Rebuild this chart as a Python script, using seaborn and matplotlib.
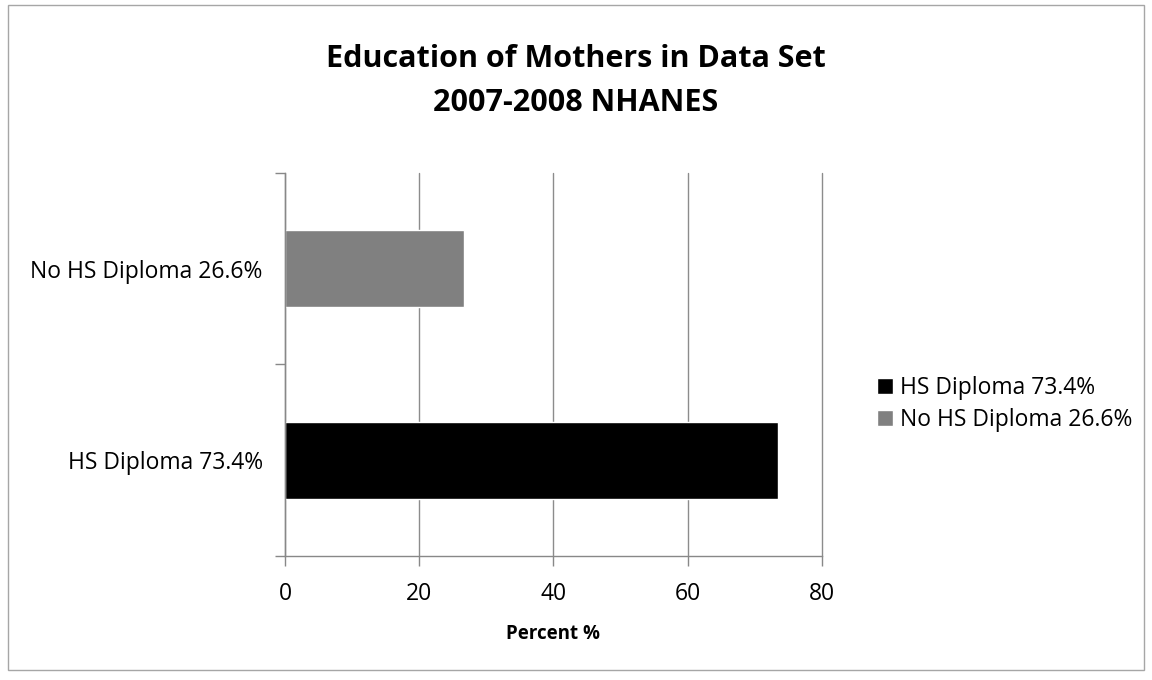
import pandas as pd
import matplotlib
matplotlib.use('Agg')
import matplotlib.pyplot as plt
import seaborn as sns
from matplotlib.patches import Rectangle

categories = ['HS Diploma 73.4%', 'No HS Diploma 26.6%']
percents = [73.4, 26.6]
bar_colors = ['#000000', '#808080']
x_ticks = [0, 20, 40, 60, 80]

sns.set_theme(style='white')
plt.rcParams['font.family'] = ['Open Sans', 'DejaVu Sans']
plt.rcParams['text.color'] = 'black'
plt.rcParams['axes.labelcolor'] = 'black'

df = pd.DataFrame({'group': categories, 'percent': percents})

fig = plt.figure(figsize=(11.52, 6.8), dpi=100)
ax = fig.add_axes([0.2474, 0.1824, 0.7135 - 0.2474, 0.7456 - 0.1824])

# Excel puts the first category at the bottom
sns.barplot(data=df, x='percent', y='group', hue='group',
            order=categories[::-1], hue_order=categories,
            palette=dict(zip(categories, bar_colors)),
            width=0.4, saturation=1, ax=ax, legend=True)

ax.set_xlim(0, 80)
ax.set_ylim(1.5, -0.5)
ax.set_xticks(x_ticks)
ax.set_yticks([-0.5, 0.5, 1.5], minor=True)
ax.tick_params(axis='y', which='major', length=0, labelsize=16.5, pad=16,
               labelcolor='black')
ax.tick_params(axis='y', which='minor', length=7, color='#888888', width=1, left=True)
ax.tick_params(axis='x', length=7, color='#888888', width=1, bottom=True,
               labelsize=16.5, pad=12, direction='out', labelcolor='black')
ax.grid(axis='x', color='#8c8c8c', linewidth=1)
for line in ax.get_xgridlines():
    line.set_clip_on(False)
ax.set_axisbelow(True)
for side in ['top', 'right']:
    ax.spines[side].set_visible(False)
for side in ['left', 'bottom']:
    ax.spines[side].set_color('#888888')
    ax.spines[side].set_linewidth(1)

ax.set_ylabel('')
ax.set_xlabel('Percent %', fontsize=13.5, fontweight='bold', labelpad=13)

ax.legend(loc='center left', bbox_to_anchor=(0.7535, 1 - 404 / 680),
          bbox_transform=fig.transFigure, frameon=False,
          fontsize=16.5, handlelength=0.7, handleheight=0.7, handletextpad=0.3,
          labelspacing=0.35, borderaxespad=0)

fig.suptitle('Education of Mothers in Data Set\n2007-2008 NHANES',
             fontsize=22, fontweight='bold', y=0.935, linespacing=1.6)

fig.patches.append(Rectangle((0.007, 0.015), 0.986, 0.977, transform=fig.transFigure,
                             fill=False, edgecolor='#a6a6a6', linewidth=1))

plt.savefig('out.png', dpi=100)
